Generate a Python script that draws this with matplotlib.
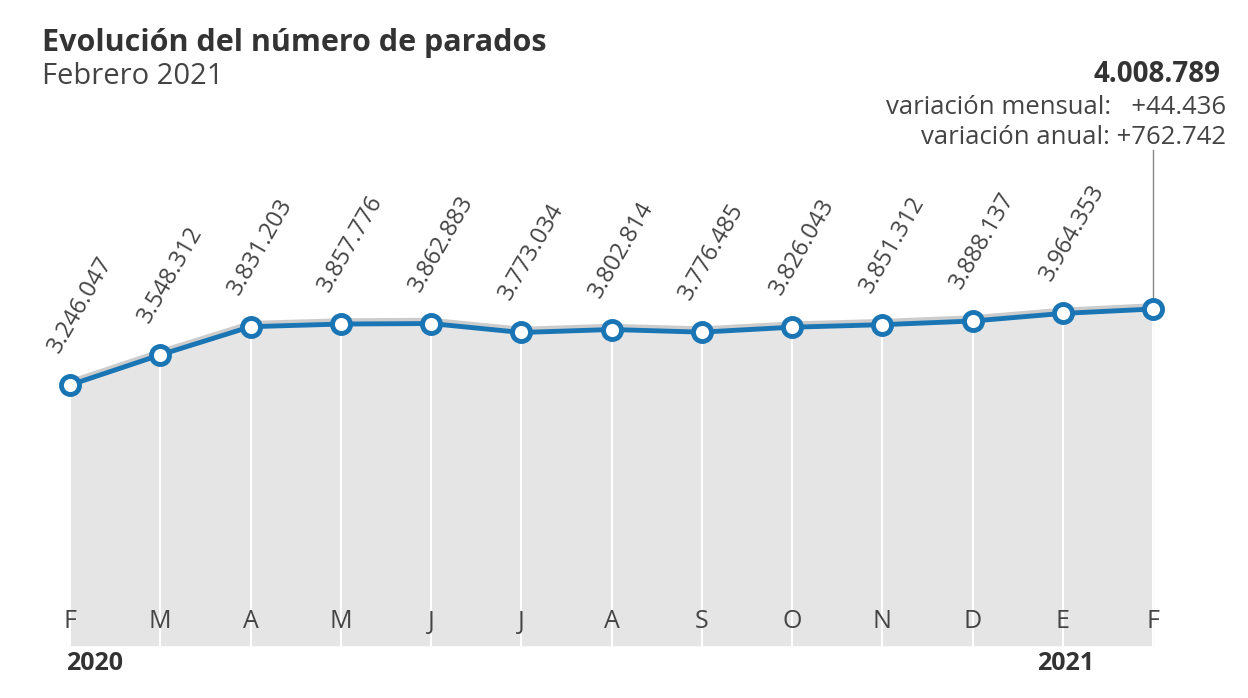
import matplotlib.pyplot as plt

months = ["F", "M", "A", "M", "J", "J", "A", "S", "O", "N", "D", "E", "F"]
parados = [3246047, 3548312, 3831203, 3857776, 3862883, 3773034, 3802814,
           3776485, 3826043, 3851312, 3888137, 3964353, 4008789]
labels = ["3.246.047", "3.548.312", "3.831.203", "3.857.776", "3.862.883", "3.773.034",
          "3.802.814", "3.776.485", "3.826.043", "3.851.312", "3.888.137", "3.964.353"]
years = {0: "2020", 11: "2021"}

plt.rcParams["font.family"] = "Open Sans"
W, H = 1248, 698
fig = plt.figure(figsize=(W / 100, H / 100), dpi=100)
ax = fig.add_axes([0, 0, 1, 1])

# pixel -> data mapping (x: 70px..1153px, y: point scale)
step = (1153 - 70) / 12
vpp = (parados[-1] - parados[0]) / (385 - 309)
ax.set_xlim(-70 / step, 12 + (W - 1153) / step)
ax.set_ylim(parados[0] - (H - 385) * vpp, parados[0] + 385 * vpp)
ax.axis("off")

def ypx(p):
    return parados[0] - (p - 385) * vpp

def xpx(p):
    return (p - 70) / step

x = list(range(len(parados)))
base = ypx(645)
ax.fill_between(x, base, parados, color="#e5e5e5", zorder=1)
ax.plot(x, [v + 3 * vpp for v in parados], color="#cccccc", lw=4, zorder=1.5)
for i in x:
    ax.plot([i, i], [base, parados[i]], color="white", lw=1.5, zorder=2)
ax.plot(x, parados, color="#1a75b5", lw=3.5, zorder=3,
        marker="o", ms=13, mfc="white", mec="#1a75b5", mew=3.5)

for i, lab in enumerate(labels):
    ax.text(i - 0.07, parados[i] + 28 * vpp, lab, rotation=60, ha="left", va="bottom",
            rotation_mode="anchor", fontsize=17, color="#444444")
for i, m in enumerate(months):
    ax.text(i, ypx(622), m, ha="center", va="center", fontsize=18, color="#444444")
ax.text(xpx(95), ypx(663), years[0], ha="center", va="center", fontsize=18,
        fontweight="bold", color="#333333")
ax.text(xpx(1066), ypx(663), years[11], ha="center", va="center", fontsize=18,
        fontweight="bold", color="#333333")

ax.plot([12, 12], [parados[-1], ypx(150)], color="#888888", lw=1, zorder=0.5)
ax.text(xpx(1220), ypx(75), "4.008.789", ha="right", va="center",
        fontsize=20, fontweight="bold", color="#333333")
ax.text(xpx(1226), ypx(108), "variación mensual:   +44.436", ha="right",
        va="center", fontsize=18.5, color="#444444")
ax.text(xpx(1226), ypx(137), "variación anual: +762.742", ha="right",
        va="center", fontsize=18.5, color="#444444")

fig.text(42 / W, 1 - 43 / H, "Evolución del número de parados", fontsize=22,
         fontweight="bold", color="#333333", va="center")
fig.text(42 / W, 1 - 77 / H, "Febrero 2021", fontsize=21, color="#444444", va="center")

fig.savefig("out.png", dpi=100)
